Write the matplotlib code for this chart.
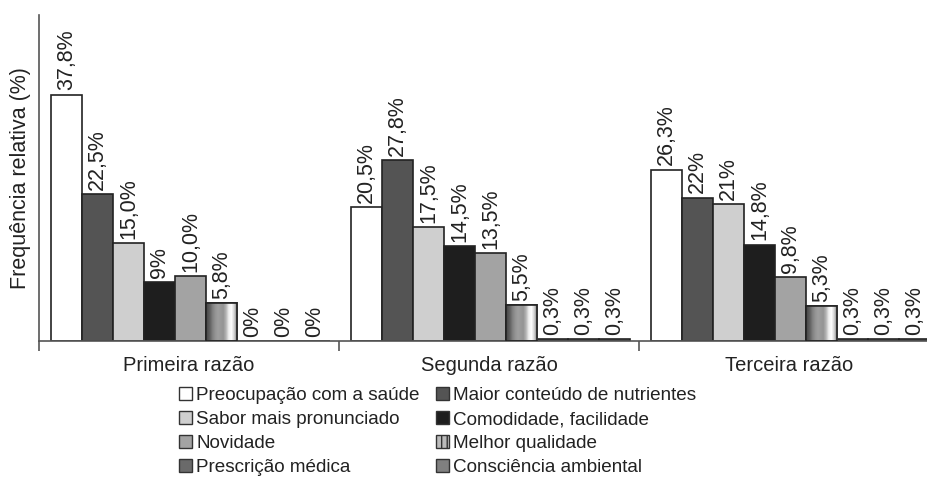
import numpy as np
import matplotlib
matplotlib.use("Agg")
import matplotlib.pyplot as plt
from matplotlib.patches import Patch

razoes = ["Primeira razão", "Segunda razão", "Terceira razão"]
motivos = ["Preocupação com a saúde", "Maior conteúdo de nutrientes",
           "Sabor mais pronunciado", "Comodidade, facilidade",
           "Novidade", "Melhor qualidade",
           "Prescrição médica", "Consciência ambiental"]
# valores por razão, na ordem dos motivos + uma barra extra vazia no fim
primeira = [37.8, 22.5, 15.0, 9.0, 10.0, 5.8, 0.0, 0.0, 0.0]
segunda = [20.5, 27.8, 17.5, 14.5, 13.5, 5.5, 0.3, 0.3, 0.3]
terceira = [26.3, 22.0, 21.0, 14.8, 9.8, 5.3, 0.3, 0.3, 0.3]
rot_primeira = ["37,8%", "22,5%", "15,0%", "9%", "10,0%", "5,8%", "0%", "0%", "0%"]
rot_segunda = ["20,5%", "27,8%", "17,5%", "14,5%", "13,5%", "5,5%", "0,3%", "0,3%", "0,3%"]
rot_terceira = ["26,3%", "22%", "21%", "14,8%", "9,8%", "5,3%", "0,3%", "0,3%", "0,3%"]

cores = ["#ffffff", "#545454", "#cfcfcf", "#1e1e1e", "#a3a3a3", "#9a9a9a",
         "#6a6a6a", "#808080", "#777777"]

plt.rcParams["font.family"] = ["Liberation Sans", "DejaVu Sans"]
txt = "#222222"

fig = plt.figure(figsize=(9.27, 4.83), dpi=100)
ax = fig.add_axes([39 / 927, 142 / 483, 900 / 927, 326 / 483])

valores = np.array([primeira, segunda, terceira])
rotulos = [rot_primeira, rot_segunda, rot_terceira]
n = valores.shape[1]
larg = 0.1035
offs = (np.arange(n) - (n - 1) / 2) * larg + 0.505

gradiente = np.array([[0.30, 0.38, 0.50, 0.58, 0.62, 0.60, 0.58, 0.70,
                       0.92, 1.0, 0.85, 0.55]])

for g in range(len(razoes)):
    for j in range(n):
        b = ax.bar(g + offs[j], valores[g, j], width=larg, color=cores[j],
                   edgecolor="#222222", linewidth=1.2, zorder=2)[0]
        if j == 5:
            x0, y0 = b.get_x(), b.get_y()
            im = ax.imshow(gradiente, cmap="gray", vmin=0, vmax=1, aspect="auto",
                           extent=(x0, x0 + b.get_width(), y0, y0 + b.get_height()),
                           zorder=2.5, interpolation="bilinear")
            im.set_clip_path(b)
            ax.bar(g + offs[j], valores[g, j], width=larg, fill=False,
                   edgecolor="#222222", linewidth=1.2, zorder=3)
        ax.annotate(rotulos[g][j], (g + offs[j], valores[g, j]),
                    xytext=(0, 3), textcoords="offset points",
                    rotation=90, ha="center", va="bottom",
                    fontsize=15.5, color=txt)

ax.set_xlim(0, 3)
ax.set_ylim(0, 50)
ax.set_xticks([0.5, 1.5, 2.5])
ax.set_xticklabels(razoes, fontsize=14.5, color=txt)
ax.tick_params(axis="x", which="major", length=0, pad=11)
ax.set_xticks([0, 1, 2, 3], minor=True)
ax.tick_params(axis="x", which="minor", length=7, width=1.2, color="#555555")
ax.set_yticks([])
ax.spines["top"].set_visible(False)
ax.spines["right"].set_visible(False)
ax.spines["left"].set_color("#555555")
ax.spines["bottom"].set_color("#555555")
ax.spines["left"].set_linewidth(1.2)
ax.spines["bottom"].set_linewidth(1.2)
ax.set_ylabel("Frequência relativa (%)", fontsize=15.5, color=txt)
ax.yaxis.set_label_coords(-8 / 900, 0.5)

handles = []
for j, m in enumerate(motivos):
    if j == 5:
        handles.append(Patch(facecolor="#bbbbbb", edgecolor="#333333",
                             hatch="|||", label=m))
    else:
        handles.append(Patch(facecolor=cores[j], edgecolor="#333333", label=m))
ordem = [0, 2, 4, 6, 1, 3, 5, 7]
leg = fig.legend([handles[i] for i in ordem], [motivos[i] for i in ordem],
                 loc="upper left", bbox_to_anchor=(179 / 927, 1 - 387 / 483),
                 ncol=2, frameon=False, fontsize=13.6, handlelength=0.7,
                 handleheight=0.7, handletextpad=0.2, columnspacing=0.85,
                 labelspacing=0.35, borderpad=0, borderaxespad=0)
for t in leg.get_texts():
    t.set_color(txt)

fig.savefig("out.png", dpi=100)
